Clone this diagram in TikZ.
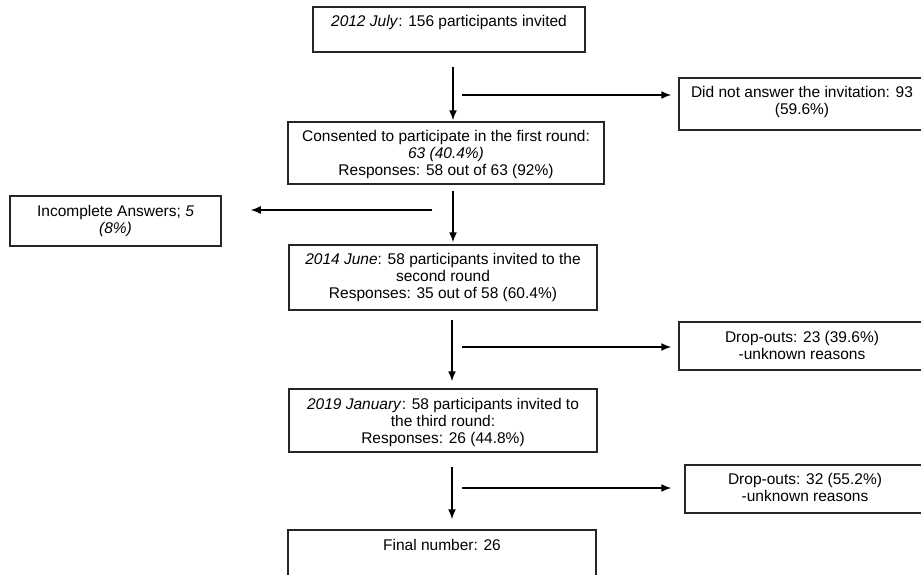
\documentclass[tikz,border=0pt]{standalone}
\usepackage{fontspec}
\setmainfont{Liberation Sans}
\usetikzlibrary{arrows.meta}
\begin{document}
\begin{tikzpicture}[x=1pt,y=-1pt,
  box/.style={draw=black!85,line width=1.5pt,rectangle,inner sep=0pt},
  txt/.style={align=center,inner sep=0pt,anchor=north,font=\fontsize{15.5}{17}\selectfont},
  arr/.style={line width=1.5pt,-{Latex[length=10pt,width=8pt]}}]
\useasboundingbox (0,0) rectangle (921,574);
\clip (0,0) rectangle (921,574);
% boxes
\node[box,minimum width=272,minimum height=45] (top) at (449,29.5) {};
\node[box,minimum width=246,minimum height=52] (did) at (802,104) {};
\node[box,minimum width=316,minimum height=62] (cons) at (446,153) {};
\node[box,minimum width=211,minimum height=50] (inc) at (115.5,221) {};
\node[box,minimum width=308,minimum height=65] (jun) at (443,277.5) {};
\node[box,minimum width=246,minimum height=48] (d23) at (802,346) {};
\node[box,minimum width=308,minimum height=63] (jan) at (443,420.5) {};
\node[box,minimum width=240,minimum height=48] (d32) at (805,489) {};
\node[box,minimum width=308,minimum height=60] (fin) at (442,560) {};
% texts
\node[txt] (topT) at ([yshift=-9pt]top.north) {\textit{2012 July}: 156 participants invited};
\node[txt] (didT) at ([yshift=-9pt]did.north) {Did not answer the invitation: 93\\(59.6\%)};
\node[txt] (consT) at ([yshift=-9pt]cons.north) {Consented to participate in the first round:\\\textit{63 (40.4\%)}\\Responses: 58 out of 63 (92\%)};
\node[txt] (incT) at ([yshift=-10pt]inc.north) {Incomplete Answers; \textit{5}\\\textit{(8\%)}};
\node[txt] (junT) at ([yshift=-9pt]jun.north) {\textit{2014 June}: 58 participants invited to the\\second round\\Responses: 35 out of 58 (60.4\%)};
\node[txt] (d23T) at ([yshift=-10pt]d23.north) {Drop-outs: 23 (39.6\%)\\-unknown reasons};
\node[txt] (janT) at ([yshift=-10pt]jan.north) {\textit{2019 January}: 58 participants invited to\\the third round:\\Responses: 26 (44.8\%)};
\node[txt] (d32T) at ([yshift=-9pt]d32.north) {Drop-outs: 32 (55.2\%)\\-unknown reasons};
\node[txt] (finT) at ([yshift=-10pt]fin.north) {Final number: 26};
% connector start points
\coordinate (v1s) at (453,67);
\coordinate (h1s) at (462,95);
\coordinate (v2s) at (453,191);
\coordinate (h2s) at (432,210);
\coordinate (v3s) at (452,320);
\coordinate (h3s) at (462,347);
\coordinate (v4s) at (452,467);
\coordinate (h4s) at (462,488);
% connectors
\draw[arr,shorten >=1pt] (v1s) -- (v1s |- cons.north);
\draw[arr,shorten >=7pt] (h1s) -- (h1s -| did.west);
\draw[arr,shorten >=2pt] (v2s) -- (v2s |- jun.north);
\draw[arr,shorten >=29pt] (h2s) -- (h2s -| inc.east);
\draw[arr,shorten >=7pt] (v3s) -- (v3s |- jan.north);
\draw[arr,shorten >=7pt] (h3s) -- (h3s -| d23.west);
\draw[arr,shorten >=10pt] (v4s) -- (v4s |- fin.north);
\draw[arr,shorten >=13pt] (h4s) -- (h4s -| d32.west);
\end{tikzpicture}
\end{document}
